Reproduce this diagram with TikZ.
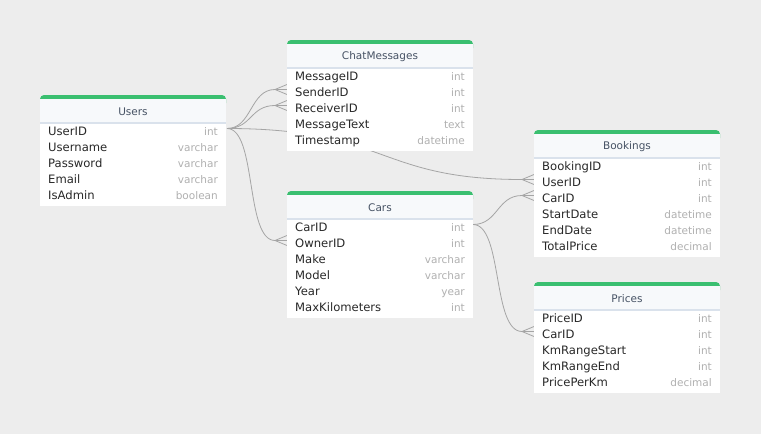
\documentclass[tikz,border=0pt]{standalone}
\usepackage{fontspec}
\setmainfont{DejaVu Sans}
\definecolor{bg}{RGB}{237,237,237}
\definecolor{hgreen}{RGB}{58,191,112}
\definecolor{hfill}{RGB}{247,249,251}
\definecolor{divcol}{RGB}{218,226,236}
\definecolor{namecol}{RGB}{40,40,40}
\definecolor{typecol}{RGB}{176,176,176}
\definecolor{titlecol}{RGB}{70,82,100}
\definecolor{conncol}{RGB}{165,165,165}
\tikzset{
  fieldname/.style={anchor=west,inner sep=0pt,text height=8pt,text depth=2pt,text=namecol,font=\fontsize{11.6}{13}\selectfont},
  fieldtype/.style={anchor=east,inner sep=0pt,text height=8pt,text depth=2pt,text=typecol,font=\fontsize{10.5}{13}\selectfont},
  titletext/.style={inner sep=0pt,text=titlecol,font=\fontsize{10.5}{13}\selectfont},
  tablebox/.style={anchor=north west,inner sep=0pt,minimum width=186pt,draw=none},
  conn/.style={draw=conncol,line width=0.8pt},
}
% #1 id, #2 left, #3 top, #4 title, #5 rows, #6 list name/type
\newcommand{\ertable}[6]{%
  \pgfmathsetmacro\ertbot{#3+28+16*#5+3}%
  \pgfmathsetmacro\erth{16*#5+31}%
  \node[tablebox,minimum height=\erth pt] (#1) at (#2,#3) {};
  \fill[white] (#2,#3+20) rectangle (#2+186,\ertbot);
  \fill[hgreen,rounded corners=4pt] (#2,#3) rectangle (#2+186,#3+12);
  \fill[hfill] (#2,#3+4) rectangle (#2+186,#3+28);
  \draw[divcol,line width=1.5pt] (#2,#3+28) -- (#2+186,#3+28);
  \node[titletext] (#1-title) at (#2+93,#3+17) {#4};
  \foreach \nm/\tp [count=\i] in {#6} {
    \node[fieldname] (#1-n\i) at (#2+8,#3+21.5+16*\i) {\nm};
    \node[fieldtype] (#1-t\i) at (#2+178,#3+21.5+16*\i) {\tp};
    \coordinate (#1-l\i) at (#2,#3+17.5+16*\i);
    \coordinate (#1-r\i) at (#2+186,#3+17.5+16*\i);
    \coordinate (#1-a\i) at (#2-12,#3+17.5+16*\i);
  }
}
\newcommand{\crowfoot}[1]{%
  \draw[conn] (#1-a) -- ([yshift=5pt]#1-l) (#1-a) -- (#1-l) (#1-a) -- ([yshift=-5pt]#1-l);}
\begin{document}
\begin{tikzpicture}[x=1pt,y=-1pt]
\fill[bg] (0,0) rectangle (761,434);
\useasboundingbox (0,0) rectangle (761,434);
% coordinates for connectors (computed like in tables)
\coordinate (U-r1) at (227,128.5);
\coordinate (C-l2-l) at (287,89.5); \coordinate (C-l2-a) at (275,89.5);
\coordinate (C-l3-l) at (287,105.5); \coordinate (C-l3-a) at (275,105.5);
\coordinate (K-l2-l) at (287,240.5); \coordinate (K-l2-a) at (275,240.5);
\coordinate (K-r1) at (473,224.5);
\coordinate (B-l2-l) at (534,179.5); \coordinate (B-l2-a) at (522,179.5);
\coordinate (B-l3-l) at (534,195.5); \coordinate (B-l3-a) at (522,195.5);
\coordinate (P-l2-l) at (534,331.5); \coordinate (P-l2-a) at (522,331.5);
% connectors (behind tables)
\draw[conn] (U-r1) .. controls +(25,0) and +(-25,0) .. (C-l2-a);
\draw[conn] (U-r1) .. controls +(25,0) and +(-25,0) .. (C-l3-a);
\draw[conn] (U-r1) .. controls +(30,0) and +(-30,0) .. (K-l2-a);
\draw[conn] (U-r1) .. controls +(160,0) and +(-145,0) .. (B-l2-a);
\draw[conn] (K-r1) .. controls +(25,0) and +(-25,0) .. (B-l3-a);
\draw[conn] (K-r1) .. controls +(30,0) and +(-30,0) .. (P-l2-a);
\crowfoot{C-l2}\crowfoot{C-l3}\crowfoot{K-l2}\crowfoot{B-l2}\crowfoot{B-l3}\crowfoot{P-l2}
% tables
\ertable{users}{40}{95}{Users}{5}{UserID/int,Username/varchar,Password/varchar,Email/varchar,IsAdmin/boolean}
\ertable{chat}{287}{40}{ChatMessages}{5}{MessageID/int,SenderID/int,ReceiverID/int,MessageText/text,Timestamp/datetime}
\ertable{cars}{287}{191}{Cars}{6}{CarID/int,OwnerID/int,Make/varchar,Model/varchar,Year/year,MaxKilometers/int}
\ertable{bookings}{534}{130}{Bookings}{6}{BookingID/int,UserID/int,CarID/int,StartDate/datetime,EndDate/datetime,TotalPrice/decimal}
\ertable{prices}{534}{282}{Prices}{5}{PriceID/int,CarID/int,KmRangeStart/int,KmRangeEnd/int,PricePerKm/decimal}
\end{tikzpicture}
\end{document}
